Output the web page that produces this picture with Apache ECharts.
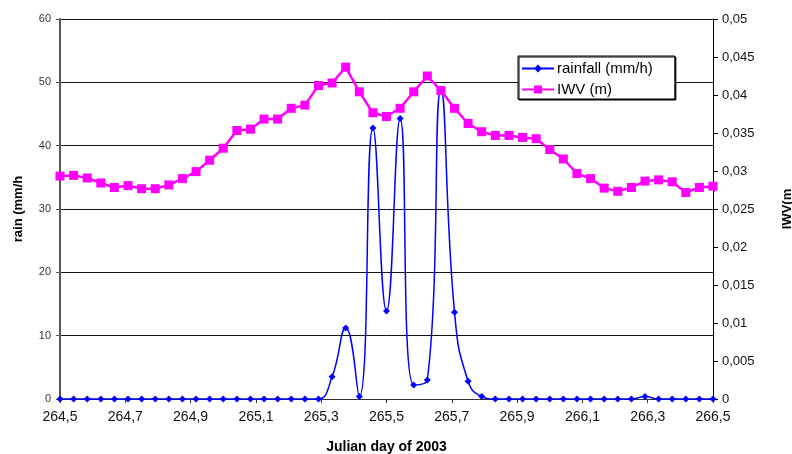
<!DOCTYPE html>
<html>
<head>
<meta charset="utf-8">
<script src="https://cdn.jsdelivr.net/npm/echarts@6/dist/echarts.min.js"></script>
<style>
  html, body { margin: 0; padding: 0; background: #fff; }
  #chart { width: 792px; height: 454px; }
</style>
</head>
<body>
<div id="chart"></div>
<script>
// hourly samples, starting at julian day 264.5
var startDay = 264.5;
var hoursPerDay = 24;

// rainfall (mm/h), one value per hour
var rainfall = [
  0, 0, 0, 0, 0, 0, 0, 0, 0, 0,
  0, 0, 0, 0, 0, 0, 0, 0, 0, 0,
  3.5, 11.2, 0.4, 42.8, 13.9, 44.3, 2.2, 3.0, 48.8, 13.7,
  2.8, 0.4, 0, 0, 0, 0, 0, 0, 0, 0,
  0, 0, 0, 0.4, 0, 0, 0, 0, 0
];

// IWV (m), one value per hour (last one lies just past the axis end)
var iwv = [
  0.02933, 0.02942, 0.02908, 0.02842, 0.02783, 0.02808, 0.02767, 0.02767, 0.02817, 0.02900,
  0.02992, 0.03142, 0.03300, 0.03533, 0.03550, 0.03683, 0.03683, 0.03825, 0.03867, 0.04125,
  0.04158, 0.04367, 0.04042, 0.03767, 0.03717, 0.03825, 0.04042, 0.04250, 0.04058, 0.03825,
  0.03625, 0.03517, 0.03467, 0.03467, 0.03442, 0.03425, 0.03283, 0.03158, 0.02967, 0.02900,
  0.02775, 0.02733, 0.02783, 0.02867, 0.02883, 0.02858, 0.02717, 0.02783, 0.02800, 0.02450
];

var xTicks = { min: 264.5, max: 266.5, step: 0.2 };
var rainTicks = { min: 0, max: 60, step: 10 };
var iwvTicks = { min: 0, max: 0.05, step: 0.005 };

function dayOf(i) { return startDay + i / hoursPerDay; }
function comma(v, d) { return v.toFixed(d).replace('.', ','); }

var myChart = echarts.init(document.getElementById('chart'));
var font = 'Liberation Sans, Arial, sans-serif';

var option = {
  animation: false,
  backgroundColor: '#fff',
  grid: { left: 60, right: 79, top: 19, bottom: 55, containLabel: false, outerBoundsMode: 'none' },
  legend: {
    orient: 'vertical',
    left: 518,
    top: 56,
    padding: [5, 22, 2, 3],
    itemWidth: 32,
    itemHeight: 10,
    itemGap: 6,
    backgroundColor: '#fff',
    borderColor: '#000',
    borderWidth: 1,
    shadowColor: '#000',
    shadowBlur: 0,
    shadowOffsetX: 1,
    shadowOffsetY: 1,
    textStyle: { fontFamily: font, fontSize: 15, color: '#000', padding: [0, 0, 0, -2] },
    data: ['rainfall (mm/h)', 'IWV (m)']
  },
  xAxis: {
    type: 'value',
    min: xTicks.min,
    max: xTicks.max,
    interval: xTicks.step,
    name: 'Julian day of 2003',
    nameLocation: 'middle',
    nameGap: 41,
    nameTextStyle: { fontFamily: font, fontSize: 14, fontWeight: 'bold', color: '#000' },
    axisLine: { onZero: false, lineStyle: { color: '#333', width: 1 } },
    axisTick: { length: 4, lineStyle: { color: '#333' } },
    axisLabel: {
      fontFamily: font, fontSize: 14, color: '#111', margin: 11,
      formatter: function (v) { return comma(v, 1); }
    },
    splitLine: { show: false }
  },
  yAxis: [{
    type: 'value',
    min: rainTicks.min,
    max: rainTicks.max,
    interval: rainTicks.step,
    name: 'rain (mm/h',
    nameLocation: 'middle',
    nameRotate: 90,
    nameGap: 35,
    nameTextStyle: { fontFamily: font, fontSize: 13, fontWeight: 'bold', color: '#000' },
    axisLine: { show: true, lineStyle: { color: '#555', width: 2 } },
    axisTick: { show: true, length: 4, lineStyle: { color: '#555' } },
    axisLabel: { fontFamily: font, fontSize: 11, color: '#333', margin: 9 },
    splitLine: { show: true, lineStyle: { color: '#111', width: 1 } }
  }, {
    type: 'value',
    position: 'right',
    min: iwvTicks.min,
    max: iwvTicks.max,
    interval: iwvTicks.step,
    name: 'IWV(m',
    nameLocation: 'middle',
    nameRotate: 90,
    nameGap: 68,
    nameTextStyle: { fontFamily: font, fontSize: 13, fontWeight: 'bold', color: '#000' },
    axisLine: { show: true, lineStyle: { color: '#000', width: 1 } },
    axisTick: { show: true, length: 5, lineStyle: { color: '#000' } },
    axisLabel: {
      fontFamily: font, fontSize: 13, color: '#111', margin: 9,
      formatter: function (v) { return v === 0 ? '0' : String(+v.toFixed(3)).replace('.', ','); }
    },
    splitLine: { show: false }
  }],
  series: [{
    name: 'rainfall (mm/h)',
    type: 'line',
    yAxisIndex: 0,
    smooth: 0.5,
    data: rainfall.map(function (v, i) { return [dayOf(i), v]; }),
    symbol: 'diamond',
    symbolSize: 7,
    showAllSymbol: true,
    lineStyle: { color: '#0000ff', width: 1.5 },
    itemStyle: { color: '#0000ff' },
    clip: false,
    z: 2
  }, {
    name: 'IWV (m)',
    type: 'line',
    yAxisIndex: 1,
    data: iwv.map(function (v, i) {
      var d = dayOf(i);
      return d > xTicks.max ? { value: [d, v], symbol: 'none' } : [d, v];
    }),
    symbol: 'rect',
    symbolSize: 9,
    showAllSymbol: true,
    lineStyle: { color: '#ff00ff', width: 2.5 },
    itemStyle: { color: '#ff00ff' },
    clip: true,
    z: 3
  }]
};

myChart.setOption(option);
</script>
</body>
</html>
